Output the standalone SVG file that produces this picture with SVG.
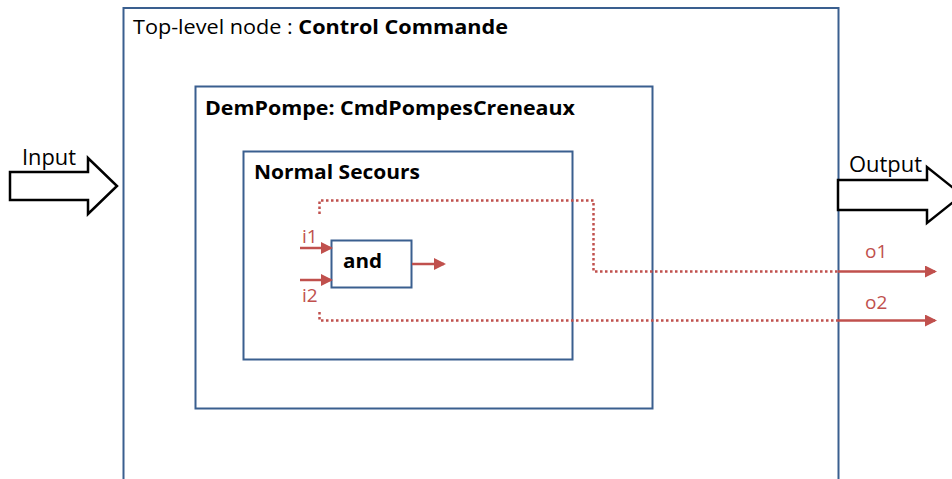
<svg xmlns="http://www.w3.org/2000/svg" width="952" height="479" viewBox="0 0 952 479">
<style>
.box{fill:#fff;stroke:#3A5F8F;stroke-width:2}
.t{font-family:"Open Sans","Liberation Sans",sans-serif;fill:#000}
.b{font-weight:bold}
.r{font-family:"Open Sans","Liberation Sans",sans-serif;fill:#C0504D;font-size:19px}
.sig{stroke:#C0504D;stroke-width:2.5;fill:none}
.dot{stroke:#C0504D;stroke-width:2.5;fill:none;stroke-dasharray:2.5 2.5}
.big{fill:#fff;stroke:#000;stroke-width:2.5}
</style>
<defs>
<marker id="ah" markerWidth="12" markerHeight="12" refX="10" refY="6" orient="auto" markerUnits="userSpaceOnUse">
<path d="M0,0 L12,6 L0,12 z" fill="#C0504D"/>
</marker>
</defs>
<rect width="952" height="479" fill="#fff"/>
<g id="top-level">
<rect class="box" x="123.5" y="8" width="715" height="490"/>
<text class="t" x="133" y="34" font-size="20" textLength="375" lengthAdjust="spacingAndGlyphs">Top-level node : <tspan class="b">Control Commande</tspan></text>
</g>
<g id="dempompe">
<rect class="box" x="195.5" y="86.5" width="457" height="322"/>
<text class="t b" x="205" y="115" font-size="20" textLength="370" lengthAdjust="spacingAndGlyphs">DemPompe: CmdPompesCreneaux</text>
</g>
<g id="normal-secours">
<rect class="box" x="243.5" y="151.5" width="329" height="208"/>
<text class="t b" x="254" y="179" font-size="20" textLength="166" lengthAdjust="spacingAndGlyphs">Normal Secours</text>
</g>
<g id="and">
<rect class="box" x="331.5" y="240.5" width="80" height="47"/>
<text class="t b" x="343" y="268" font-size="20" textLength="39" lengthAdjust="spacingAndGlyphs">and</text>
</g>
<g id="input">
<path class="big" d="M10,172 L88,172 L88,158 L117,186 L88,214 L88,200 L10,200 Z"/>
<text class="t" x="22" y="165" font-size="21" textLength="54" lengthAdjust="spacingAndGlyphs">Input</text>
</g>
<g id="output">
<path class="big" d="M838,180 L927,180 L927,167 L962,195 L927,223 L927,210 L838,210 Z"/>
<text class="t" x="849" y="172" font-size="21" textLength="73" lengthAdjust="spacingAndGlyphs">Output</text>
</g>
<g id="connectors">
<line class="sig" x1="300" y1="248" x2="331" y2="248" marker-end="url(#ah)"/>
<line class="sig" x1="300" y1="280" x2="331" y2="280" marker-end="url(#ah)"/>
<line class="sig" x1="412" y1="264" x2="444" y2="264" marker-end="url(#ah)"/>
<polyline class="dot" points="319.5,214 319.5,200.5 593.5,200.5 593.5,271.5 838,271.5"/>
<polyline class="dot" points="319.5,312 319.5,320.5 838,320.5"/>
<line class="sig" x1="838" y1="271.5" x2="935" y2="271.5" marker-end="url(#ah)"/>
<line class="sig" x1="838" y1="320.5" x2="935" y2="320.5" marker-end="url(#ah)"/>
<text class="r" x="302" y="243">i1</text>
<text class="r" x="302" y="302">i2</text>
<text class="r" x="865" y="258">o1</text>
<text class="r" x="865" y="309">o2</text>
</g>
</svg>
